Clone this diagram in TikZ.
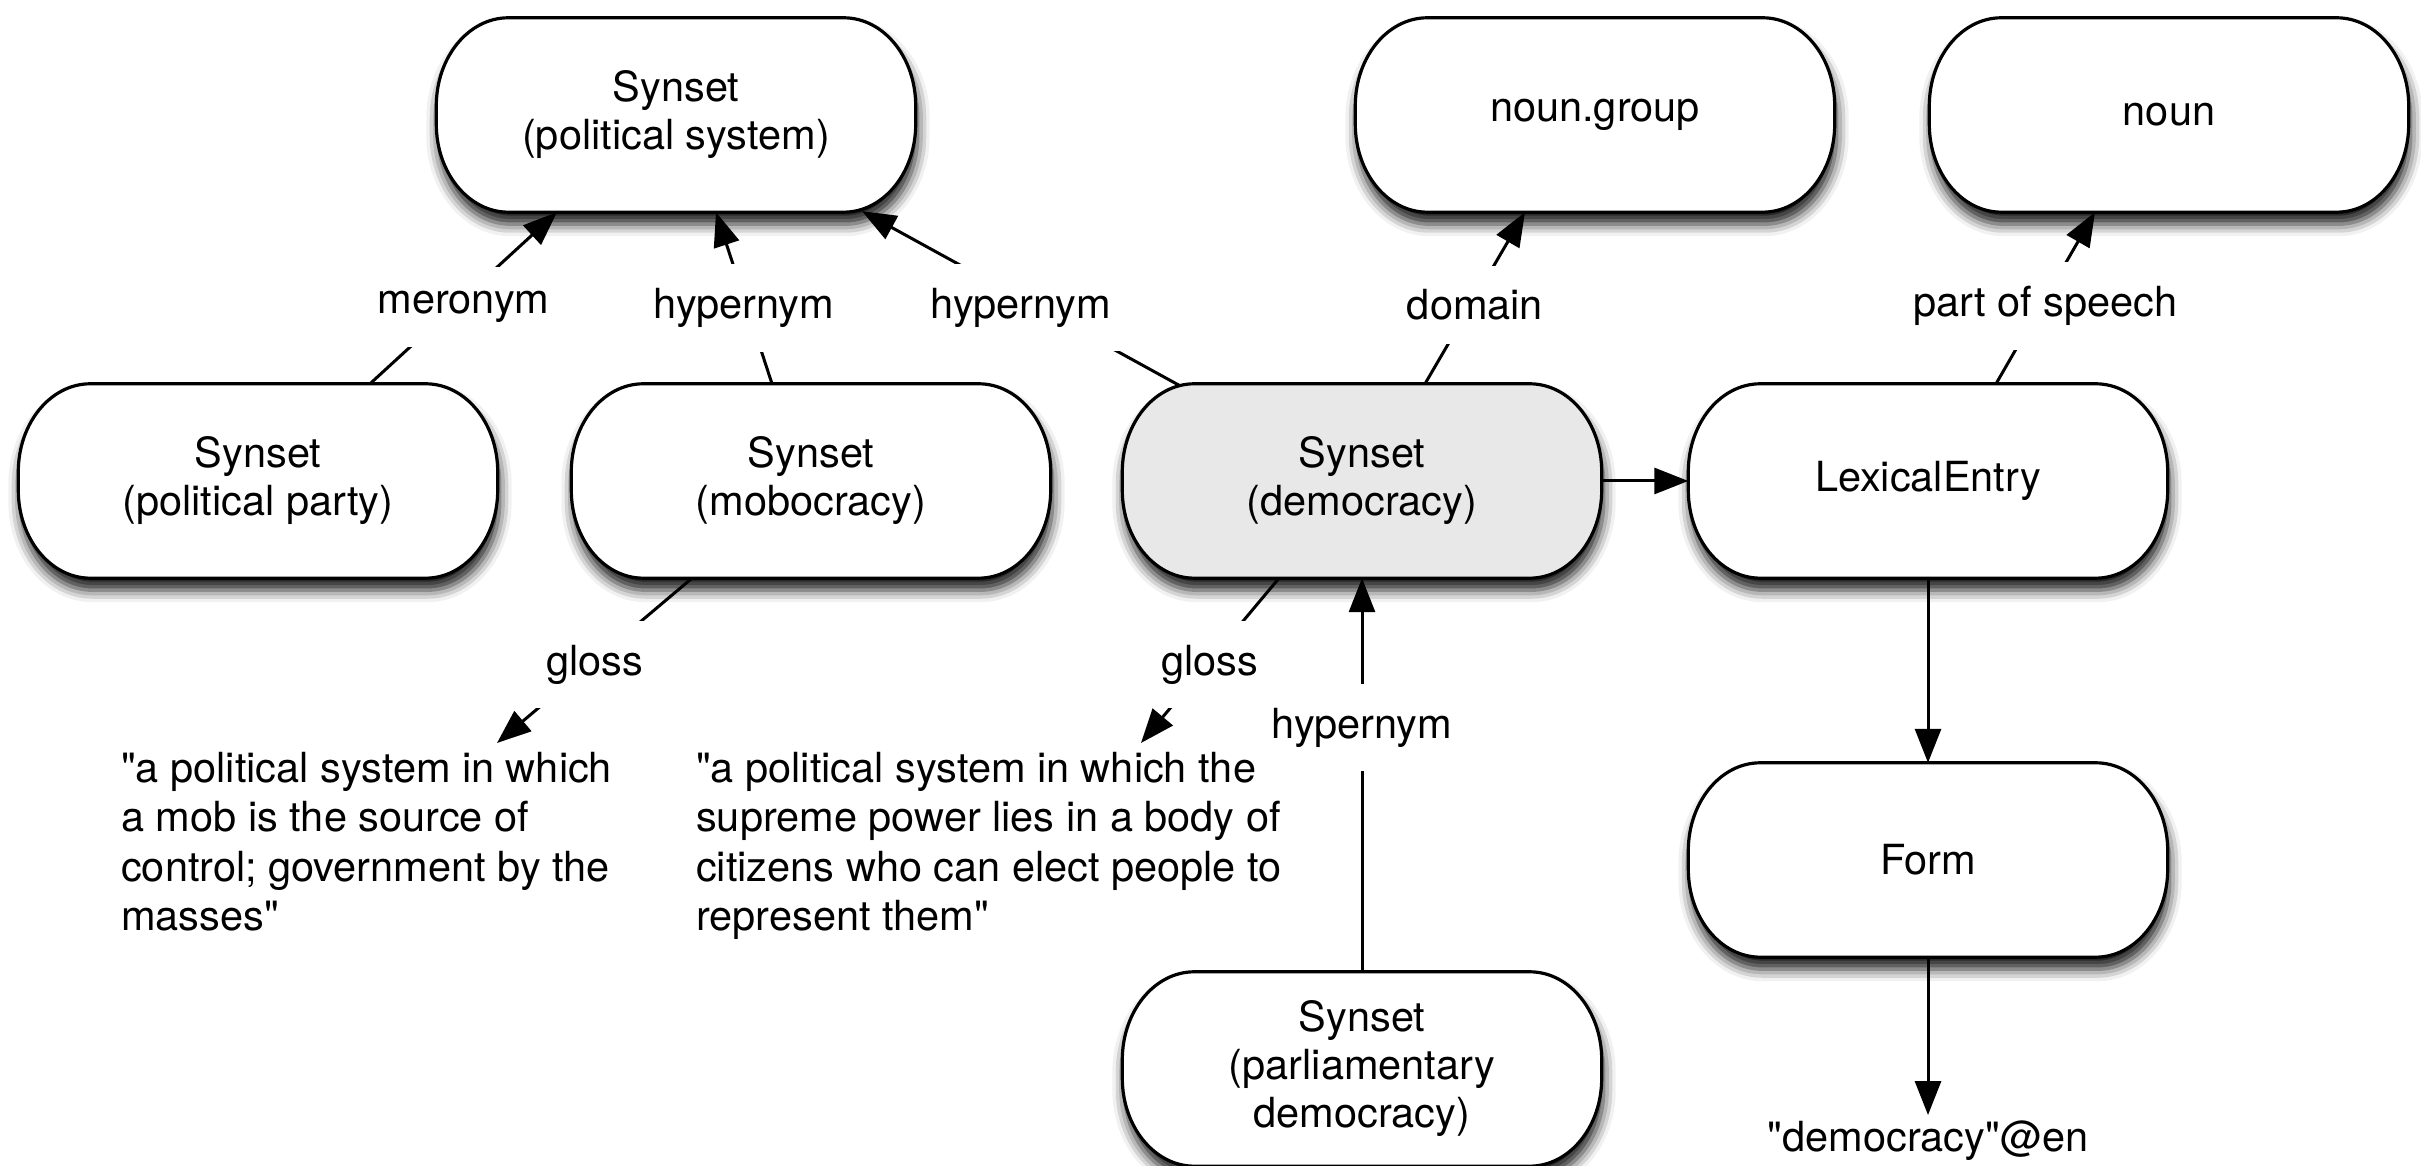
\documentclass[tikz,border=0pt]{standalone}
\usepackage{fontspec}
\setmainfont{TeX Gyre Heros}[Ligatures=TeXOff]
\usetikzlibrary{arrows.meta,calc,backgrounds,shadows.blur}

\tikzset{
  txt/.style={font=\fontsize{41.5}{48}\selectfont, align=center, inner sep=0pt},
  gtxt/.style={font=\fontsize{41.5}{49.5}\selectfont, align=left, inner sep=0pt, anchor=north west},
  boxnode/.style={txt, minimum width=479pt, minimum height=194pt},
  lbl/.style={font=\fontsize{41.5}{48}\selectfont, fill=white, inner xsep=16pt, inner ysep=24pt},
  conn/.style={draw=black, opacity=1, line width=3pt,
    -{Triangle[length=34pt,width=26pt,fill=black,line join=miter]}},
  outline/.style={draw=black, line width=3.2pt, fill=white,
    blur shadow={shadow xshift=2pt, shadow yshift=-12pt, shadow blur radius=12pt, shadow opacity=90}},
}

\newcommand\pillpath[2][]{%
  \path[outline,#1] ($(#2.north west)+(72,0)$) -- ($(#2.north east)+(-72,0)$)
    arc[start angle=90,end angle=0,x radius=72pt,y radius=88pt]
    -- ($(#2.south east)+(0,88)$)
    arc[start angle=0,end angle=-90,x radius=72pt,y radius=88pt]
    -- ($(#2.south west)+(72,0)$)
    arc[start angle=270,end angle=180,x radius=72pt,y radius=88pt]
    -- ($(#2.north west)+(0,-88)$)
    arc[start angle=180,end angle=90,x radius=72pt,y radius=88pt]
    -- cycle;}

\begin{document}
\begin{tikzpicture}[x=1pt,y=1pt]
\useasboundingbox (0,0) rectangle (2421,1166);

% nodes
\node[boxnode] (polsys) at (676,1051) {Synset\\(political system)};
\node[boxnode] (noungroup) at (1595,1051) {noun.group};
\node[boxnode] (noun) at (2169,1051) {noun};
\node[boxnode] (polparty) at (258,685) {Synset\\(political party)};
\node[boxnode] (mobo) at (811,685) {Synset\\(mobocracy)};
\node[boxnode] (demo) at (1362,685) {Synset\\(democracy)};
\node[boxnode] (lex) at (1928,685) {LexicalEntry};
\node[boxnode] (form) at (1928,306) {Form};
\node[boxnode] (parl) at (1362,97) {Synset\\(parliamentary\\democracy)};

\node[gtxt] (gloss1) at (121,414) {"a political system in which\\a mob is the source of\\control; government by the\\masses"};
\node[gtxt] (gloss2) at (696,414) {"a political system in which the\\supreme power lies in a body of\\citizens who can elect people to\\represent them"};
\node[txt, anchor=base, inner sep=6pt] (lit) at (1928,14) {"democracy"@en};

% box outlines
\begin{pgfonlayer}{background}
\pillpath{polsys}
\pillpath{noungroup}
\pillpath{noun}
\pillpath{polparty}
\pillpath{mobo}
\pillpath[fill=black!9]{demo}
\pillpath{lex}
\pillpath{form}
\pillpath{parl}
\end{pgfonlayer}

% connectors
\draw[conn] ($(polparty.north)+(112,0)$) -- node[lbl,yshift=-9pt]{meronym} ($(polsys.south)+(-119,0)$);
\draw[conn] ($(mobo.north)+(-39,0)$) -- node[lbl,yshift=-10pt]{hypernym} ($(polsys.south)+(40,0)$);
\draw[conn] ($(demo.north)+(-182,-2)$) -- node[lbl,yshift=-9pt]{hypernym} ($(polsys.south)+(186,1)$);
\draw[conn] ($(demo.north)+(63,0)$) -- node[lbl,yshift=-7pt]{domain} ($(noungroup.south)+(-70,0)$);
\draw[conn] ($(lex.north)+(68,0)$) -- node[lbl,yshift=-8pt]{part of speech} ($(noun.south)+(-74,0)$);
\draw[conn] ($(mobo.south)+(-119,0)$) -- node[lbl,yshift=-4pt]{gloss} ($(gloss1.north west)+(376,9)$);
\draw[conn] ($(demo.south)+(-83,0)$) -- node[lbl,yshift=-4pt]{gloss} ($(gloss2.north west)+(445,9)$);
\draw[conn] (parl.north) -- node[lbl,pos=0.62]{hypernym} (demo.south);
\draw[conn] (demo.east) -- (lex.west);
\draw[conn] (lex.south) -- (form.north);
\draw[conn] (form.south) -- (lit.north);
\end{tikzpicture}
\end{document}
